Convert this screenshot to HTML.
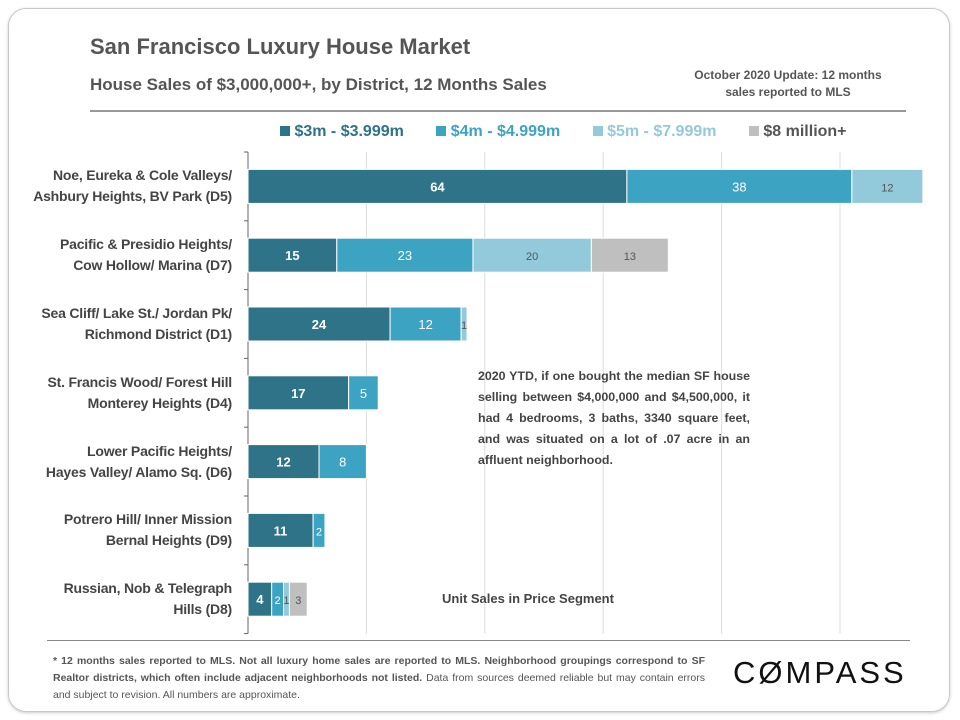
<!DOCTYPE html>
<html><head><meta charset="utf-8">
<style>
body{margin:0;width:960px;height:720px;background:#fff;font-family:"Liberation Sans",sans-serif;position:relative;overflow:hidden}
.abs{position:absolute}
.frame{left:8px;top:8px;width:940px;height:702px;border:1px solid #c8c8c8;border-radius:18px;box-shadow:0 1px 3px #ccc}
.cat{position:absolute;right:728px;text-align:right;font-size:14px;font-weight:bold;color:#444;line-height:21px;width:240px;letter-spacing:-0.2px}
</style></head><body>
<div class="abs frame"></div>
<div class="abs" style="left:90px;top:34px;font-size:22px;font-weight:bold;color:#555">San Francisco Luxury House Market</div>
<div class="abs" style="left:90px;top:75px;font-size:17px;font-weight:bold;color:#555">House Sales of $3,000,000+, by District, 12 Months Sales</div>
<div class="abs" style="left:670px;top:67px;width:236px;text-align:center;font-size:12px;font-weight:bold;color:#555;line-height:17px">October 2020 Update: 12 months<br>sales reported to MLS</div>
<div class="abs" style="left:90px;top:110px;width:816px;height:2px;background:#999"></div>
<div class="abs" style="left:280px;top:123px;font-size:16px;font-weight:bold;white-space:nowrap">
<span style="color:#2e7388"><span style="display:inline-block;width:10px;height:10px;background:#2e7388"></span> $3m - $3.999m</span>
<span style="color:#3da3c3;margin-left:28px"><span style="display:inline-block;width:10px;height:10px;background:#3da3c3"></span> $4m - $4.999m</span>
<span style="color:#93cadb;margin-left:28px"><span style="display:inline-block;width:10px;height:10px;background:#93cadb"></span> $5m - $7.999m</span>
<span style="color:#555;margin-left:28px"><span style="display:inline-block;width:10px;height:10px;background:#bfbfbf"></span> $8 million+</span>
</div>
<svg class="abs" style="left:0;top:0" width="960" height="720" id="chart"></svg>
<div id="cats"></div>
<div class="abs" style="left:478px;top:366px;width:272px;font-size:12.4px;font-weight:bold;color:#444;line-height:21px;text-align:justify">2020 YTD, if one bought the median SF house selling between $4,000,000 and $4,500,000, it had 4 bedrooms, 3 baths, 3340 square feet, and was situated on a lot of .07 acre in an affluent neighborhood.</div>
<div class="abs" style="left:442px;top:591px;font-size:13px;font-weight:bold;color:#444">Unit Sales in Price Segment</div>
<div class="abs" style="left:47px;top:640px;width:863px;height:1px;background:#888"></div>
<div class="abs" style="left:53px;top:653px;width:652px;font-size:10.5px;color:#555;line-height:17px;text-align:justify"><b>* 12 months sales reported to MLS. Not all luxury home sales are reported to MLS. Neighborhood groupings correspond to SF Realtor districts, which often include adjacent neighborhoods not listed.</b> Data from sources deemed reliable but may contain errors and subject to revision. All numbers are approximate.</div>
<div class="abs" style="left:733px;top:655px;font-size:31px;letter-spacing:3px;color:#111">C&#216;MPASS</div>
<script>
const categories=[["Noe, Eureka & Cole Valleys/","Ashbury Heights, BV Park (D5)"],["Pacific & Presidio Heights/","Cow Hollow/ Marina (D7)"],["Sea Cliff/ Lake St./ Jordan Pk/","Richmond District (D1)"],["St. Francis Wood/ Forest Hill","Monterey Heights (D4)"],["Lower Pacific Heights/","Hayes Valley/ Alamo Sq. (D6)"],["Potrero Hill/ Inner Mission","Bernal Heights (D9)"],["Russian, Nob & Telegraph","Hills (D8)"]];
const s3m=[64,15,24,17,12,11,4];
const s4m=[38,23,12,5,8,2,2];
const s5m=[12,20,1,0,0,0,1];
const s8m=[0,13,0,0,0,0,3];
const gridTicks=[0,20,40,60,80,100];
const series=[s3m,s4m,s5m,s8m];
const colors=["#2e7388","#3da3c3","#93cadb","#bfbfbf"];
const textColors=["#fff","#fff","#555","#555"];
const segNames=["3m","4m","5m","8m"];
const X0=248,PX=5.92,Y0=152,BAND=68.8,BH=34;
const x=v=>X0+v*PX;
const yb=i=>Y0+i*BAND+(BAND-BH)/2;
const svg=document.getElementById('chart');const NS="http://www.w3.org/2000/svg";
function mk(t,a){const e=document.createElementNS(NS,t);for(const k in a)e.setAttribute(k,a[k]);svg.appendChild(e);return e;}
gridTicks.forEach(t=>{if(t===0)return;const l=mk('line',{x1:x(t),x2:x(t),y1:Y0,y2:Y0+BAND*categories.length,stroke:'#ddd','stroke-width':1});

});
const ax=mk('line',{x1:X0,x2:X0,y1:Y0,y2:Y0+BAND*categories.length,stroke:'#666','stroke-width':1});


for(let i=0;i<=categories.length;i++){const tk=mk('line',{x1:X0-4,x2:X0,y1:Y0+i*BAND,y2:Y0+i*BAND,stroke:'#666'});

}
const cats=document.getElementById('cats');
categories.forEach((c,i)=>{
 let acc=0;
 series.forEach((s,k)=>{const v=s[i];if(!v)return;
  const r=mk('rect',{x:x(acc),y:yb(i),width:v*PX,height:BH,fill:colors[k],stroke:'#fff','stroke-width':1});
  
  
  const t=mk('text',{x:x(acc+v/2),y:yb(i)+BH/2+5,'text-anchor':'middle','font-size':(k<2&&v>3)||k===0?13:11,'font-weight':k===0?'bold':'normal',fill:textColors[k],'font-family':'Liberation Sans, sans-serif'});
  t.textContent=v;
  
  
  acc+=v;});
 const d=document.createElement('div');d.className='cat';d.style.top=(yb(i)-4)+'px';
 d.innerHTML=c[0]+'<br>'+c[1];
 
 
 cats.appendChild(d);
});
</script>
</body></html>
